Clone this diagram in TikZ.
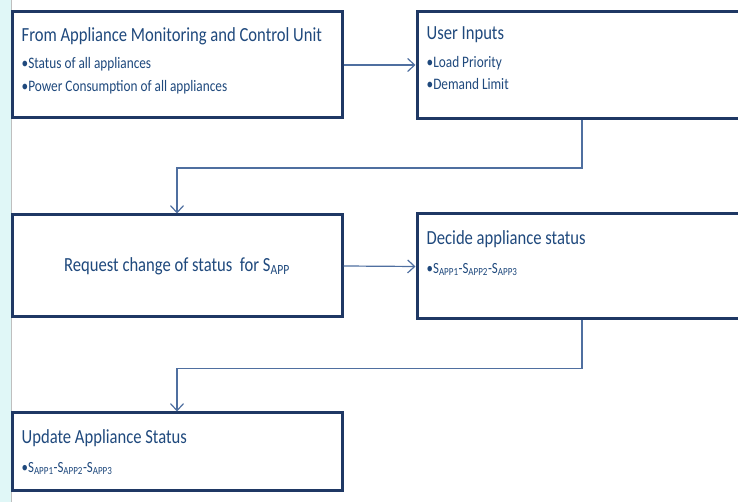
\documentclass[tikz,border=0pt]{standalone}
\usepackage{fontspec}
\setmainfont{Carlito}[FakeStretch=0.83]
\usetikzlibrary{arrows.meta,calc}
\definecolor{boxblue}{RGB}{31,56,100}
\definecolor{txtblue}{RGB}{31,73,125}
\definecolor{lineblue}{RGB}{79,111,160}
\definecolor{edgecyan}{RGB}{224,247,247}
\newcommand{\Sapp}[1]{S\textsubscript{APP#1}}
\begin{document}
\begin{tikzpicture}[x=1pt,y=1pt,
  box/.style={draw=boxblue,line width=3pt,fill=white,minimum width=330pt,inner sep=0pt},
  link/.style={draw=lineblue,line width=1.2pt,-{Straight Barb[length=7pt,width=13pt]}},
  head/.style={anchor=base west,text=txtblue,font=\fontsize{20}{24}\selectfont,inner sep=0pt},
  item/.style={anchor=base west,text=txtblue,font=\fontsize{16}{19}\selectfont,inner sep=0pt}]
\useasboundingbox (0,0) rectangle (738,502);
\clip (0,0) rectangle (738,502);
\fill[edgecyan] (0,0) rectangle (11,502);
\draw[gray!50,line width=1pt] (11,0) -- (11,502);

% boxes
\node[box,minimum height=106pt] (mon) at (177,437) {};
\node[box,minimum height=107pt] (inp) at (582,437) {};
\node[box,minimum height=102pt] (req) at (177,236) {};
\node[box,minimum height=105pt] (dec) at (582,235.5) {};
\node[box,minimum height=78pt] (upd) at (177,50) {};

% texts
\node[head] (monhead) at ($(mon.north west)+(11,-31)$) {From Appliance Monitoring and Control Unit};
\node[item] (monA) at ($(mon.north west)+(11,-58)$) {\textbullet Status of all appliances};
\node[item] (monB) at ($(mon.north west)+(11,-81)$) {\textbullet Power Consumption of all appliances};
\node[head] (inphead) at ($(inp.north west)+(11,-30)$) {User Inputs};
\node[item] (inpA) at ($(inp.north west)+(11,-58)$) {\textbullet Load Priority};
\node[item] (inpB) at ($(inp.north west)+(11,-80)$) {\textbullet Demand Limit};
\node[text=txtblue,font=\fontsize{20}{24}\selectfont] (reqtext) at (req.center) {Request change of status\ \ for \Sapp{}};
\node[head] (dechead) at ($(dec.north west)+(11,-32)$) {Decide appliance status};
\node[item,font=\fontsize{15.5}{18}\selectfont] (decA) at ($(dec.north west)+(11,-61)$) {\textbullet\Sapp{1}-\Sapp{2}-\Sapp{3}};
\node[head] (updhead) at ($(upd.north west)+(11,-32)$) {Update Appliance Status};
\node[item,font=\fontsize{15.5}{18}\selectfont] (updA) at ($(upd.north west)+(11,-61)$) {\textbullet\Sapp{1}-\Sapp{2}-\Sapp{3}};

% connectors
\draw[link] (mon.east) -- (inp.west);
\draw[link] (inp.south) -- ++(0,-48) -| (req.north);
\draw[link] (req.east) -- (dec.west);
\draw[link] (dec.south) -- ++(0,-48) -| (upd.north);
\end{tikzpicture}
\end{document}
